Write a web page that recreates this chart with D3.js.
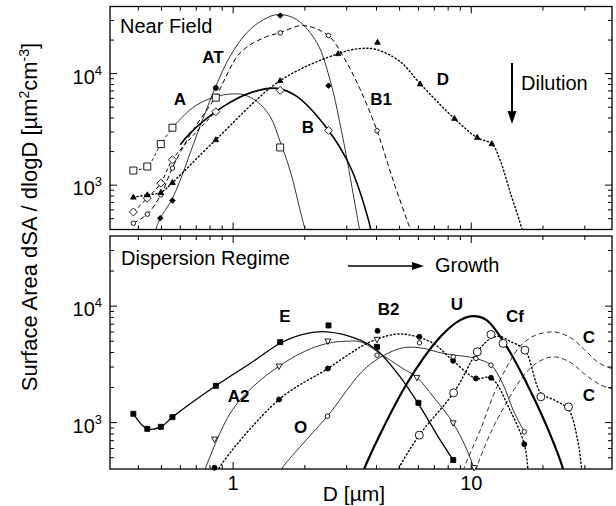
<!DOCTYPE html>
<html><head><meta charset="utf-8">
<script src="https://cdn.jsdelivr.net/npm/d3@7/dist/d3.min.js"></script>
<style>body{margin:0;background:#fff} text{font-family:"Liberation Sans",Arial,Helvetica,sans-serif;fill:#000}</style>
</head><body><svg id="c" width="616" height="506"></svg>
<script>
// ---------- axes ticks ----------
const xMajor = [1, 10];
const xMinor = [0.4,0.5,0.6,0.7,0.8,0.9,2,3,4,5,6,7,8,9,20,30];
const yMajor = [1000, 10000];
const yMinor = [500,600,700,800,900,2000,3000,4000,5000,6000,7000,8000,9000,20000,30000];
const xTickLabels = ["1", "10"];
const yTickExp = ["3", "4"];

// ---------- Near Field (top panel) ----------
const A_pts  = [[0.381,1352],[0.436,1469],[0.497,2335],[0.556,3273],[0.846,6087],[1.576,2177]];
const A_fit  = [[0.556,3273],[0.66,4750],[0.75,5640],[0.854,6250],[0.971,6560],[1.105,6470],[1.257,5640],[1.43,4130],[1.576,2450],[1.735,1350],[1.925,560],[2.05,330]];
const AT_pts = [[0.494,505],[0.556,727],[1.576,33200],[2.515,7800]];
const AT_circ = [[0.846,7440]];
const AT_fit = [[0.47,380],[0.494,505],[0.556,760],[0.727,3400],[0.846,7700],[0.971,14300],[1.14,23200],[1.34,30500],[1.55,33900],[1.85,30500],[2.25,18900],[2.55,8840],[2.9,2550],[3.3,560],[3.45,330]];
const B_pts  = [[0.381,575],[0.436,764],[0.497,1042],[0.556,1688],[0.846,4557],[1.576,7079],[2.515,3095]];
const B_fit  = [[0.6,2300],[0.66,2930],[0.911,5080],[1.179,6720],[1.526,7380],[1.85,6250],[2.515,3095],[3.1,1469],[3.7,488],[3.85,330]];
const B1_pts = [[0.381,455],[0.436,549],[0.497,818],[0.556,1422],[1.576,23200],[2.515,21950],[4.02,3076]];
const B1_fit = [[0.381,455],[0.436,549],[0.497,818],[0.556,1429],[0.66,2830],[0.846,6250],[1.07,15350],[1.34,20900],[1.576,23300],[1.968,27000],[2.51,21900],[2.95,13350],[3.42,7180],[4.02,3076],[4.69,1117],[5.54,405],[5.75,330]];
const D_pts  = [[0.381,780],[0.436,818],[0.497,859],[0.556,1055],[0.846,2553],[1.576,8650],[2.76,15100],[4.04,19100],[6.1,8080],[8.5,3965],[10.6,2678],[12.2,2350]];
const D_fit  = [[0.381,780],[0.436,818],[0.497,859],[0.556,1055],[0.846,2553],[1.576,8650],[2.76,15100],[3.42,16800],[4.02,16400],[5.03,12800],[6.1,8130],[8.5,3950],[10.6,2660],[12.2,2350],[13.2,1690],[14.6,853],[16.4,396],[16.8,330]];

// ---------- Dispersion Regime (bottom panel) ----------
const E_pts  = [[0.381,1191],[0.436,885],[0.497,920],[0.556,1115],[0.846,2070],[1.576,4910],[2.515,6830],[4.02,4475],[6.0,1479],[8.4,477]];
const E_fit  = [[0.381,1191],[0.436,885],[0.497,920],[0.556,1115],[0.846,2070],[1.2,3300],[1.576,4800],[1.91,5640],[2.475,6020],[3.42,5110],[4.02,4190],[5.03,2470],[6.11,1366],[7.41,707],[8.4,477]];
const A2_pts = [[0.835,721],[1.56,3055],[2.5,5010],[4.02,5180],[5.91,2443],[8.39,995],[10.3,410]];
const A2_fit = [[0.74,330],[0.763,400],[0.971,1200],[1.2,2000],[1.56,3055],[2.0,4100],[2.5,4800],[3.0,5000],[3.42,4940],[4.14,3926],[5.03,3012],[5.91,2443],[6.93,1665],[8.39,995],[9.6,581],[10.2,418],[10.5,330]];
const B2_pts = [[0.835,410],[1.56,1582],[2.5,2917],[4.04,6140],[6.06,5450],[8.39,3393],[10.46,2395],[12.1,2425],[16.7,654]];
const B2_fit = [[0.84,330],[0.868,400],[1.56,1582],[2.5,2917],[3.1,3925],[3.65,4786],[4.71,5710],[5.54,5640],[6.93,4786],[8.39,3393],[10.46,2395],[12.1,2425],[14.5,1300],[16.7,654],[17.3,400],[17.5,330]];
const O_pts  = [[2.49,1137],[4.02,3793],[6.06,4842],[8.4,3672],[10.46,3556],[12.1,3117],[16.7,834]];
const O_fit  = [[1.55,330],[1.6,400],[1.91,620],[2.49,1137],[3.65,3012],[5.03,4335],[6.11,4385],[7.65,3926],[10.46,3556],[12.1,3117],[13.5,2200],[15.0,1280],[16.7,834]];
const U_fit  = [[3.45,330],[3.55,400],[5.37,2168],[7.42,5450],[8.98,7585],[10.2,8209],[11.6,7585],[14.1,4475],[17.1,2168],[20.8,920],[24.3,400],[24.8,330]];
const Cf_pts = [[6.05,781],[8.43,1803],[10.6,4053],[12.1,5716],[13.6,4786],[16.8,4190],[19.6,1667],[25.6,1366]];
const Cf_fit = [[4.8,330],[4.95,400],[6.05,781],[8.43,1803],[10.6,4053],[12.1,5300],[13.2,5500],[14.5,5000],[16.8,4190],[19.6,1800],[22.5,1550],[25.6,1300],[28,700],[29.1,400],[29.5,330]];
const C1_fit = [[9.1,330],[9.3,400],[11.0,900],[12.5,1800],[14.1,3000],[16,4500],[18.5,5600],[22.2,6000],[26,5400],[30,4200],[34,3300],[39,2900]];
const C2_fit = [[10.3,330],[10.5,400],[12,800],[14.1,1500],[16.5,2500],[19,3300],[22.2,3670],[26,3300],[30,2600],[35,2100],[39,1950]];

// ---------- layout ----------
const L = 110, R = 612;
const svg = d3.select('#c');
const x = d3.scaleLog().domain([0.304, 39]).range([L, R]);
const yT = d3.scaleLog().domain([400, 40000]).range([229.5, 6.5]);
const yB = d3.scaleLog().domain([400, 40000]).range([469, 236]);

function panel(y, id, showX) {
  const [b, t] = y.range();
  svg.append('clipPath').attr('id', id).append('rect')
    .attr('x', L).attr('y', t).attr('width', R - L).attr('height', b - t);
  const g = svg.append('g');
  const tk = (x1, y1, x2, y2) => g.append('line').attr('x1', x1).attr('y1', y1).attr('x2', x2).attr('y2', y2)
    .attr('stroke', '#000').attr('stroke-width', 1);
  xMajor.forEach(v => { tk(x(v), b, x(v), b - 7); tk(x(v), t, x(v), t + 7); });
  xMinor.forEach(v => { tk(x(v), b, x(v), b - 4); tk(x(v), t, x(v), t + 4); });
  yMajor.forEach(v => { tk(L, y(v), L + 7, y(v)); tk(R, y(v), R - 7, y(v)); });
  yMinor.forEach(v => { tk(L, y(v), L + 4, y(v)); tk(R, y(v), R - 4, y(v)); });
  g.append('rect').attr('x', L).attr('y', t).attr('width', R - L).attr('height', b - t)
    .attr('fill', 'none').attr('stroke', '#000').attr('stroke-width', 1.3);
  yMajor.forEach((v, i) => {
    const tx = g.append('text').attr('x', 102).attr('y', y(v) + 10).attr('text-anchor', 'end').attr('font-size', 20);
    tx.append('tspan').text('10');
    tx.append('tspan').attr('dy', -9).attr('font-size', 13).text(yTickExp[i]);
  });
  if (showX) {
    xMajor.forEach((v, i) => g.append('text').attr('x', x(v)).attr('y', 490).attr('text-anchor', 'middle')
      .attr('font-size', 20).text(xTickLabels[i]));
  }
  return g;
}

const gT = panel(yT, 'clipT', false);
const gB = panel(yB, 'clipB', true);

function curve(y, clip, data, w, dash) {
  const ln = d3.line().x(d => x(d[0])).y(d => y(d[1])).curve(d3.curveCatmullRom.alpha(0.5));
  svg.append('path').attr('d', ln(data)).attr('clip-path', `url(#${clip})`)
    .attr('fill', 'none').attr('stroke', '#000').attr('stroke-width', w)
    .attr('stroke-dasharray', dash || null).attr('stroke-linecap', dash && dash.startsWith('1') ? 'round' : 'butt');
}
function markers(y, data, type, s, filled) {
  const g = svg.append('g');
  data.forEach(d => {
    const cx = x(d[0]), cy = y(d[1]);
    let p;
    if (type === 'sq') p = `M${cx-s/2},${cy-s/2}h${s}v${s}h${-s}Z`;
    else if (type === 'dia') p = `M${cx},${cy-s/2}L${cx+s/2},${cy}L${cx},${cy+s/2}L${cx-s/2},${cy}Z`;
    else if (type === 'tri') p = `M${cx},${cy-s*0.55}L${cx+s/2},${cy+s*0.35}L${cx-s/2},${cy+s*0.35}Z`;
    else if (type === 'tdn') p = `M${cx},${cy+s*0.55}L${cx+s/2},${cy-s*0.35}L${cx-s/2},${cy-s*0.35}Z`;
    else p = `M${cx-s/2},${cy}a${s/2},${s/2} 0 1,0 ${s},0a${s/2},${s/2} 0 1,0 ${-s},0Z`;
    g.append('path').attr('d', p).attr('fill', filled ? '#000' : '#fff').attr('stroke', '#000').attr('stroke-width', 0.9);
  });
}

// top panel lines
curve(yT, 'clipT', A_pts.slice(0, 4), 0.9, '3,2.5');
curve(yT, 'clipT', A_fit, 0.8);
curve(yT, 'clipT', AT_fit, 0.8);
curve(yT, 'clipT', B_pts.slice(0, 5), 1.0, '4,2.5');
curve(yT, 'clipT', B_fit, 1.6);
curve(yT, 'clipT', B1_fit, 1.0, '5,3');
curve(yT, 'clipT', D_fit, 1.4, '1.2,2.6');
markers(yT, A_pts, 'sq', 7, false);
markers(yT, B_pts, 'dia', 8, false);
markers(yT, B1_pts, 'circ', 4.5, false);
markers(yT, AT_pts, 'dia', 5.5, true);
markers(yT, AT_circ, 'circ', 5, true);
markers(yT, D_pts, 'tri', 5.5, true);

// bottom panel lines
curve(yB, 'clipB', E_fit, 1.3);
curve(yB, 'clipB', A2_fit, 0.8);
curve(yB, 'clipB', B2_fit, 1.4, '1.2,2.6');
curve(yB, 'clipB', O_fit, 0.8);
curve(yB, 'clipB', U_fit, 2.2);
curve(yB, 'clipB', Cf_fit, 1.4, '1.2,2.6');
curve(yB, 'clipB', C1_fit, 0.8, '5,3');
curve(yB, 'clipB', C2_fit, 0.8, '5,3');
markers(yB, E_pts, 'sq', 5, true);
markers(yB, A2_pts, 'tdn', 6, false);
markers(yB, B2_pts, 'circ', 5, true);
markers(yB, O_pts, 'circ', 4.5, false);
markers(yB, Cf_pts, 'circ', 8, false);

// texts
const T = (tx, ty, s, sz, bold, anchor) => svg.append('text').attr('x', tx).attr('y', ty).attr('font-size', sz)
  .attr('font-weight', bold ? 'bold' : 'normal').attr('text-anchor', anchor || 'middle').text(s);
T(120, 33, 'Near Field', 20, false, 'start');
T(121, 265, 'Dispersion Regime', 20, false, 'start');
T(521, 90, 'Dilution', 20, false, 'start');
T(435, 272, 'Growth', 20, false, 'start');
[['AT',213,63],['A',180,105],['B',308,133],['B1',381,105],['D',443,85],
 ['E',285,322],['A2',238.5,402],['O',300.5,433],['B2',388.5,315],['U',457,310],['Cf',515,322],['C',589,343],['C',589,401]]
  .forEach(l => T(l[1], l[2], l[0], 17, true));

// arrows
svg.append('line').attr('x1', 512).attr('y1', 63).attr('x2', 512).attr('y2', 113).attr('stroke', '#000').attr('stroke-width', 2);
svg.append('path').attr('d', 'M507.5,111L516.5,111L512,124Z').attr('fill', '#000');
svg.append('line').attr('x1', 348).attr('y1', 266).attr('x2', 414).attr('y2', 266).attr('stroke', '#000').attr('stroke-width', 1.6);
svg.append('path').attr('d', 'M412,262L412,270L424,266Z').attr('fill', '#000');

// axis titles
T(354, 501, 'D [µm]', 21, false);
const yl = svg.append('text').attr('transform', 'translate(37,217) rotate(-90)').attr('text-anchor', 'middle').attr('font-size', 22);
yl.append('tspan').text('Surface Area dSA / dlogD [µm');
yl.append('tspan').attr('dy', -8).attr('font-size', 14).text('2');
yl.append('tspan').attr('dy', 8).text('cm');
yl.append('tspan').attr('dy', -8).attr('font-size', 14).text('-3');
yl.append('tspan').attr('dy', 8).text(']');
</script></body></html>
